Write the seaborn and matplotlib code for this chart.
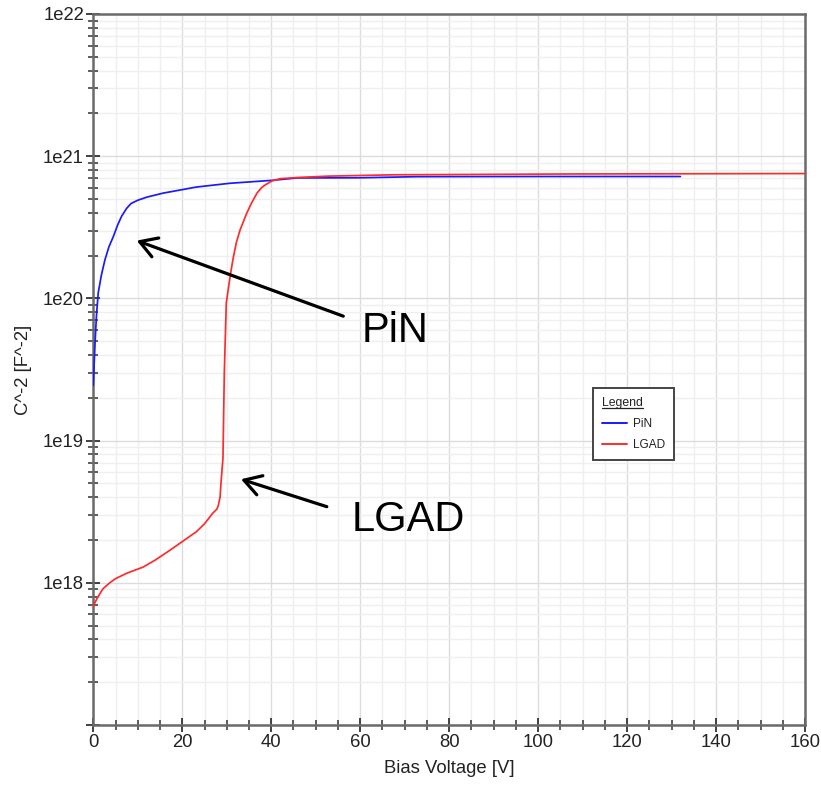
import numpy as np
import pandas as pd
import matplotlib
matplotlib.use("Agg")
import matplotlib.pyplot as plt
from matplotlib.ticker import LogLocator, MultipleLocator, FuncFormatter, NullFormatter
from matplotlib.lines import Line2D
import seaborn as sns

# C^-2 versus bias voltage for the two devices
pin_voltage = [0, 0.2, 0.4, 0.7, 1.1, 1.8, 2.6, 3.5, 4.5, 5.5, 6.4, 7.5, 8.5, 10,
               12, 15.7, 23.2, 30.7, 40.1, 45.8, 60, 72.8, 100, 132]
pin_c2 = [2.45e19, 3.5e19, 4.9e19, 7.5e19, 1.09e20, 1.45e20, 1.86e20, 2.3e20,
          2.72e20, 3.3e20, 3.8e20, 4.3e20, 4.65e20, 4.9e20, 5.15e20, 5.5e20,
          6.07e20, 6.45e20, 6.76e20, 7.03e20, 7.05e20, 7.18e20, 7.2e20, 7.2e20]

lgad_voltage = [0, 0.4, 0.9, 1.5, 2.2, 3.7, 5.0, 7.6, 11.2, 14, 17.3, 19.5, 23.2,
                25, 26.9, 27.8, 28.1, 28.5, 28.7, 29.0, 29.15, 29.45, 29.9, 30.8,
                31.5, 32.2, 33, 34.5, 35.6, 36.8, 37.8, 38.7, 40.2, 42, 46.5, 52.8,
                67.6, 108, 160]
lgad_c2 = [6.8e17, 7.3e17, 7.8e17, 8.4e17, 9.1e17, 1.0e18, 1.07e18, 1.17e18,
           1.29e18, 1.45e18, 1.7e18, 1.9e18, 2.29e18, 2.6e18, 3.1e18, 3.3e18,
           3.5e18, 4.0e18, 5.0e18, 6.6e18, 7.5e18, 2.98e19, 9.3e19, 1.46e20,
           1.96e20, 2.5e20, 3.03e20, 3.98e20, 4.7e20, 5.5e20, 6.0e20, 6.3e20,
           6.7e20, 6.95e20, 7.1e20, 7.24e20, 7.4e20, 7.5e20, 7.55e20]

series_names = ["PiN", "LGAD"]
series_colors = {"PiN": "#1a1aff", "LGAD": "#ff2b2b"}

df = pd.concat([
    pd.DataFrame({"Bias Voltage [V]": pin_voltage, "C^-2 [F^-2]": pin_c2, "device": "PiN"}),
    pd.DataFrame({"Bias Voltage [V]": lgad_voltage, "C^-2 [F^-2]": lgad_c2, "device": "LGAD"}),
], ignore_index=True)

sns.set_style("white")
plt.rcParams["font.family"] = ["Liberation Sans", "DejaVu Sans"]
plt.rcParams["text.color"] = "#222222"

fig = plt.figure(figsize=(8.21, 7.89), dpi=100)
ax = fig.add_axes([93.3 / 821, 1 - 725 / 789, (805 - 93.3) / 821, (725 - 14) / 789])

sns.lineplot(data=df, x="Bias Voltage [V]", y="C^-2 [F^-2]", hue="device",
             hue_order=series_names, palette=series_colors, estimator=None,
             sort=False, linewidth=1.25, ax=ax, legend=False, zorder=3)

ax.set_yscale("log")
ax.set_xlim(0, 160)
ax.set_ylim(1e17, 1e22)

# ticks
ax.xaxis.set_major_locator(MultipleLocator(20))
ax.xaxis.set_minor_locator(MultipleLocator(5))
ax.yaxis.set_major_locator(LogLocator(base=10, numticks=10))
ax.yaxis.set_minor_locator(LogLocator(base=10, subs=np.arange(2, 10), numticks=12))
ax.yaxis.set_major_formatter(FuncFormatter(
    lambda v, _: f"1e{int(round(np.log10(v)))}" if v > 1.5e17 else ""))
ax.yaxis.set_minor_formatter(NullFormatter())

ax.tick_params(which="both", bottom=True, left=True, top=False, right=False)
ax.tick_params(which="major", direction="inout", length=9.5, width=1.3,
               color="#333333", labelsize=13.3, labelcolor="#222222", pad=2)
ax.tick_params(which="minor", direction="inout", length=6.5, width=1.1,
               color="#333333")

ax.grid(which="major", color="#dcdcdc", linewidth=1.0, zorder=0)
ax.grid(which="minor", color="#efefef", linewidth=1.0, zorder=0)
ax.set_axisbelow(True)

for side in ["left", "bottom", "top", "right"]:
    ax.spines[side].set_visible(True)
    ax.spines[side].set_color("#6a6a6a")
    ax.spines[side].set_linewidth(1.8)

ax.set_xlabel("Bias Voltage [V]", fontsize=13.3, color="#222222", labelpad=6)
ax.set_ylabel("C^-2 [F^-2]", fontsize=13.3, color="#222222", labelpad=8)

# callouts
arrow_kw = dict(arrowstyle="->,head_length=0.6,head_width=0.36", color="black",
                lw=2.3, mutation_scale=20, shrinkA=0, shrinkB=0)
ax.annotate("", xy=(9.76, 2.55e20), xytext=(56.2, 7.5e19), arrowprops=arrow_kw)
ax.annotate("", xy=(33.2, 5.35e18), xytext=(52.5, 3.43e18), arrowprops=arrow_kw)
ax.text(60.3, 4.91e19, "PiN", fontsize=30, color="black", ha="left", va="baseline")
ax.text(58.1, 2.32e18, "LGAD", fontsize=30, color="black", ha="left", va="baseline")

# legend box
handles = [Line2D([], [], color=series_colors[n], lw=1.4) for n in series_names]
leg = ax.legend(handles, series_names, title="Legend", loc="upper left",
                bbox_to_anchor=(593.3 / 821, 1 - 388.3 / 789),
                bbox_transform=fig.transFigure, fontsize=8.5, title_fontsize=8.8,
                frameon=True, fancybox=False, framealpha=1, edgecolor="#444444",
                borderpad=0.75, labelspacing=0.75, handlelength=2.1,
                handletextpad=0.5, borderaxespad=0, alignment="left")
leg.get_frame().set_linewidth(1.4)
for t in leg.get_texts():
    t.set_color("#222222")

fig.canvas.draw()
tb = leg.get_title().get_window_extent()
inv = fig.transFigure.inverted()
y_ul = tb.y0 + 0.12 * tb.height
(x0, y0), (x1, _) = inv.transform([(tb.x0, y_ul), (tb.x1, y_ul)])
fig.add_artist(Line2D([x0, x1], [y0, y0], transform=fig.transFigure,
                      color="#222222", lw=0.9))

fig.savefig("out.png", dpi=100)
